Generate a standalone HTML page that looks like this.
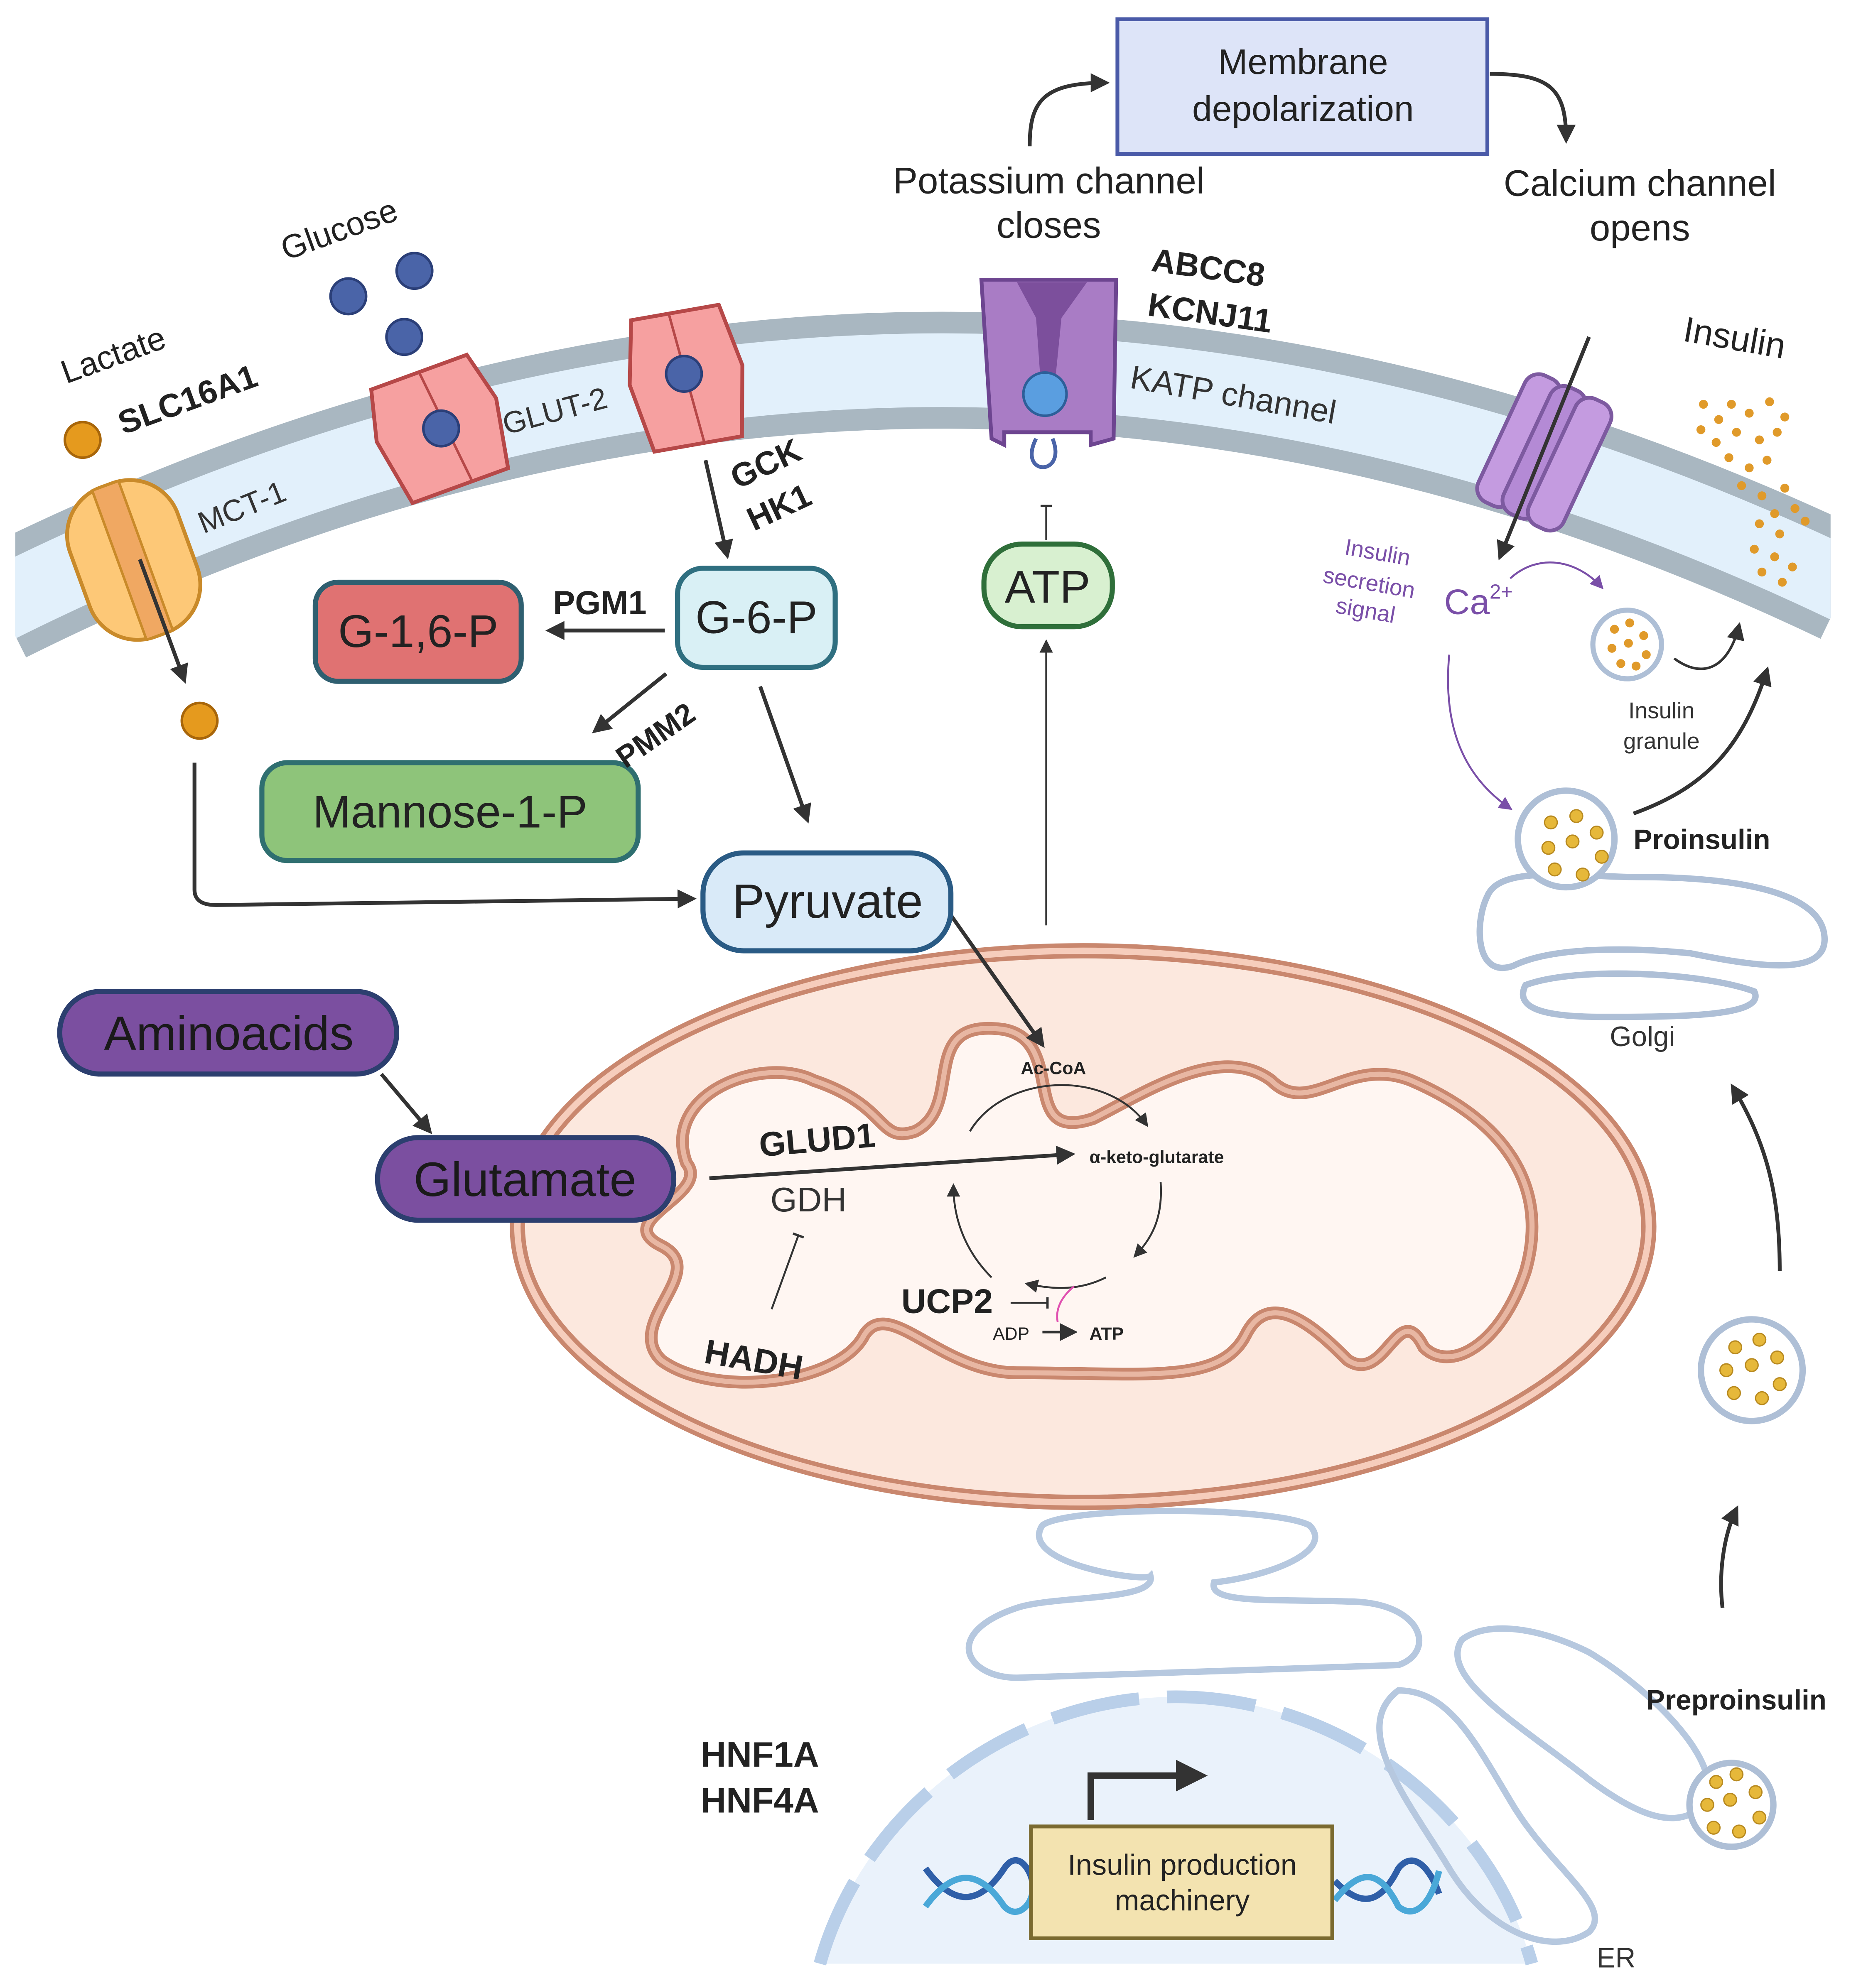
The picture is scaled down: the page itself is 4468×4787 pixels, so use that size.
<!DOCTYPE html>
<html><head><meta charset="utf-8"><style>
html,body{margin:0;padding:0;background:#fff}
svg{display:block}
text{font-family:"Liberation Sans",sans-serif}
</style></head><body>
<svg width="4468" height="4787" viewBox="0 0 1460 1564" xmlns="http://www.w3.org/2000/svg">
<defs>
<marker id="a" viewBox="0 0 10 10" refX="8" refY="5" markerWidth="5" markerHeight="5" orient="auto"><path d="M0,0 L10,5 L0,10 z" fill="#333"/></marker>
<marker id="as" viewBox="0 0 10 10" refX="8" refY="5" markerWidth="7" markerHeight="7" orient="auto"><path d="M0,0 L10,5 L0,10 z" fill="#333"/></marker>
<marker id="ap" viewBox="0 0 10 10" refX="8" refY="5" markerWidth="7" markerHeight="7" orient="auto"><path d="M0,0 L10,5 L0,10 z" fill="#7a4fa8"/></marker>
<marker id="t" viewBox="0 0 10 10" refX="5" refY="5" markerWidth="6" markerHeight="6" orient="auto"><path d="M5,0 L5,10" stroke="#333" stroke-width="2"/></marker>
<clipPath id="mc"><rect x="12" y="0" width="1428" height="700"/></clipPath>
</defs>

<!-- membrane -->
<g clip-path="url(#mc)">
<path d="M0 476 Q 726 114 1452 461" fill="none" stroke="#a9b7c1" stroke-width="92"/>
<path d="M0 476 Q 726 114 1452 461" fill="none" stroke="#e2f0fb" stroke-width="58"/>
</g>

<!-- mitochondrion -->
<ellipse cx="852" cy="965" rx="445" ry="217" fill="#fce8de" stroke="#c9876e" stroke-width="12"/>
<ellipse cx="852" cy="965" rx="445" ry="217" fill="none" stroke="#f6cdbc" stroke-width="5"/>
<path d="M540 915 C 520 860 600 830 640 850 C 700 870 690 900 720 890 C 760 870 720 800 790 810 C 840 820 800 900 860 880 C 900 860 960 820 1000 850 C 1030 880 1060 830 1110 850 C 1180 880 1220 930 1200 1000 C 1180 1060 1140 1080 1120 1060 C 1100 1020 1090 1090 1060 1070 C 1040 1050 1000 1010 980 1050 C 960 1090 900 1080 800 1080 C 740 1080 700 1020 680 1050 C 660 1090 560 1100 520 1070 C 490 1040 560 1000 520 980 C 480 960 560 940 540 915 Z" fill="#fff6f2" stroke="#c9876e" stroke-width="10"/>
<path d="M540 915 C 520 860 600 830 640 850 C 700 870 690 900 720 890 C 760 870 720 800 790 810 C 840 820 800 900 860 880 C 900 860 960 820 1000 850 C 1030 880 1060 830 1110 850 C 1180 880 1220 930 1200 1000 C 1180 1060 1140 1080 1120 1060 C 1100 1020 1090 1090 1060 1070 C 1040 1050 1000 1010 980 1050 C 960 1090 900 1080 800 1080 C 740 1080 700 1020 680 1050 C 660 1090 560 1100 520 1070 C 490 1040 560 1000 520 980 C 480 960 560 940 540 915 Z" fill="none" stroke="#e8b7a3" stroke-width="4"/>

<!-- nucleus -->
<path d="M645 1545 C 680 1420 800 1335 925 1335 C 1050 1335 1170 1420 1205 1545 Z" fill="#eaf2fb"/>
<path d="M645 1545 C 680 1420 800 1335 925 1335 C 1050 1335 1170 1420 1205 1545" fill="none" stroke="#b9cfe9" stroke-width="10" stroke-dasharray="70 22"/>

<!-- ER -->
<g fill="none" stroke="#b6c8df" stroke-width="5">
<path d="M820 1200 C 800 1230 900 1245 905 1240 C 910 1260 830 1255 800 1265 C 740 1285 760 1320 800 1320 L1100 1310 C 1130 1300 1120 1260 1060 1260 C 1000 1258 950 1262 955 1245 C 1000 1240 1050 1220 1030 1200 C 1000 1185 840 1185 820 1200 Z"/>
<path d="M1100 1330 C 1060 1360 1110 1420 1140 1470 C 1170 1520 1220 1540 1250 1520 C 1270 1500 1220 1470 1190 1420 C 1160 1370 1140 1330 1100 1330 Z"/>
<path d="M1150 1290 C 1130 1320 1200 1360 1250 1400 C 1290 1430 1320 1440 1340 1420 C 1360 1390 1300 1330 1250 1300 C 1210 1280 1170 1275 1150 1290 Z"/>
</g>

<!-- Golgi -->
<g fill="none" stroke="#aebfd6" stroke-width="5">
<path d="M1170 705 C 1180 680 1240 690 1290 690 C 1360 690 1430 700 1435 735 C 1440 770 1380 760 1330 750 C 1280 745 1220 745 1190 760 C 1160 770 1160 725 1170 705 Z"/>
<path d="M1200 775 C 1240 760 1340 765 1380 780 C 1390 800 1320 800 1260 800 C 1220 800 1190 795 1200 775 Z"/>
</g>
<circle cx="1232" cy="660" r="38" fill="#fff" stroke="#aebfd6" stroke-width="5"/>
<g fill="#e6b83a" stroke="#b88a20" stroke-width="1">
<circle cx="1220" cy="647" r="5"/><circle cx="1240" cy="642" r="5"/><circle cx="1256" cy="655" r="5"/><circle cx="1218" cy="667" r="5"/><circle cx="1237" cy="662" r="5"/><circle cx="1223" cy="684" r="5"/><circle cx="1245" cy="688" r="5"/><circle cx="1260" cy="674" r="5"/>
</g>
<!-- vesicles -->
<circle cx="1378" cy="1078" r="40" fill="#fff" stroke="#aebfd6" stroke-width="5"/>
<g fill="#e6b83a" stroke="#b88a20" stroke-width="1">
<circle cx="1365" cy="1060" r="5"/><circle cx="1384" cy="1054" r="5"/><circle cx="1398" cy="1068" r="5"/><circle cx="1358" cy="1078" r="5"/><circle cx="1378" cy="1074" r="5"/><circle cx="1400" cy="1089" r="5"/><circle cx="1364" cy="1096" r="5"/><circle cx="1386" cy="1100" r="5"/>
</g>
<circle cx="1362" cy="1420" r="33" fill="#fff" stroke="#aebfd6" stroke-width="5"/>
<g fill="#e6b83a" stroke="#b88a20" stroke-width="1">
<circle cx="1350" cy="1402" r="5"/><circle cx="1366" cy="1396" r="5"/><circle cx="1381" cy="1410" r="5"/><circle cx="1343" cy="1420" r="5"/><circle cx="1361" cy="1416" r="5"/><circle cx="1384" cy="1430" r="5"/><circle cx="1348" cy="1438" r="5"/><circle cx="1368" cy="1441" r="5"/>
</g>
<circle cx="1280" cy="507" r="27" fill="#fff" stroke="#aebfd6" stroke-width="4"/>
<g fill="#e09a2a">
<circle cx="1270" cy="495" r="3.5"/><circle cx="1282" cy="490" r="3.5"/><circle cx="1293" cy="500" r="3.5"/><circle cx="1268" cy="510" r="3.5"/><circle cx="1281" cy="506" r="3.5"/><circle cx="1295" cy="515" r="3.5"/><circle cx="1275" cy="522" r="3.5"/><circle cx="1287" cy="524" r="3.5"/>
</g>
<!-- insulin dots -->
<g fill="#e09a2a">
<circle cx="1340" cy="318" r="3.5"/><circle cx="1352" cy="330" r="3.5"/><circle cx="1362" cy="318" r="3.5"/><circle cx="1376" cy="325" r="3.5"/><circle cx="1392" cy="316" r="3.5"/><circle cx="1404" cy="328" r="3.5"/><circle cx="1338" cy="338" r="3.5"/><circle cx="1350" cy="348" r="3.5"/><circle cx="1366" cy="340" r="3.5"/><circle cx="1384" cy="346" r="3.5"/><circle cx="1398" cy="340" r="3.5"/><circle cx="1360" cy="360" r="3.5"/><circle cx="1376" cy="368" r="3.5"/><circle cx="1390" cy="362" r="3.5"/><circle cx="1370" cy="382" r="3.5"/><circle cx="1386" cy="390" r="3.5"/><circle cx="1404" cy="384" r="3.5"/><circle cx="1396" cy="404" r="3.5"/><circle cx="1412" cy="400" r="3.5"/><circle cx="1384" cy="412" r="3.5"/><circle cx="1400" cy="420" r="3.5"/><circle cx="1380" cy="432" r="3.5"/><circle cx="1396" cy="438" r="3.5"/><circle cx="1410" cy="446" r="3.5"/><circle cx="1386" cy="450" r="3.5"/><circle cx="1402" cy="458" r="3.5"/><circle cx="1420" cy="410" r="3.5"/>
</g>

<!-- MCT-1 transporter -->
<g transform="rotate(-20 105 440)">
<rect x="60" y="378" width="90" height="125" rx="40" fill="#fdc877" stroke="#c98a2a" stroke-width="3"/>
<rect x="93" y="378" width="22" height="125" fill="#f0a862" stroke="#c98a2a" stroke-width="2"/>
</g>
<!-- GLUT-2 transporters -->
<g transform="rotate(-20 345 335)">
<path d="M305 290 L385 290 L395 330 L385 385 L305 385 L295 330 Z" fill="#f6a0a0" stroke="#b64848" stroke-width="3"/>
<path d="M345 290 L355 385" stroke="#b64848" stroke-width="2"/>
</g>
<g transform="rotate(-10 540 297)">
<path d="M505 245 L575 245 L585 295 L575 350 L505 350 L495 295 Z" fill="#f6a0a0" stroke="#b64848" stroke-width="3"/>
<path d="M535 245 L545 350" stroke="#b64848" stroke-width="2"/>
</g>
<circle cx="347" cy="337" r="14" fill="#4a64a8" stroke="#2b3f78" stroke-width="2"/>
<circle cx="538" cy="294" r="14" fill="#4a64a8" stroke="#2b3f78" stroke-width="2"/>
<circle cx="274" cy="233" r="14" fill="#4a64a8" stroke="#2b3f78" stroke-width="2"/>
<circle cx="326" cy="213" r="14" fill="#4a64a8" stroke="#2b3f78" stroke-width="2"/>
<circle cx="318" cy="265" r="14" fill="#4a64a8" stroke="#2b3f78" stroke-width="2"/>
<circle cx="65" cy="346" r="14" fill="#e59a1e" stroke="#a8660a" stroke-width="2"/>
<circle cx="157" cy="567" r="14" fill="#e59a1e" stroke="#a8660a" stroke-width="2"/>

<!-- KATP -->
<path d="M772 220 L878 220 L876 345 L858 350 L858 340 L790 340 L790 350 L780 345 Z" fill="#a97cc5" stroke="#6d4590" stroke-width="3"/>
<path d="M800 222 L855 222 L835 250 L828 320 L820 320 L815 250 Z" fill="#7c4f9c"/>
<circle cx="822" cy="310" r="17" fill="#5a9ee0" stroke="#2d5f99" stroke-width="2"/>
<path d="M815 345 C 800 375 840 375 828 345" fill="none" stroke="#4a64a8" stroke-width="3"/>
<!-- Ca channel -->
<g transform="rotate(25 1213 355)">
<rect x="1178" y="300" width="30" height="110" rx="12" fill="#c49be0" stroke="#7d5aa0" stroke-width="3"/>
<rect x="1200" y="300" width="30" height="110" rx="12" fill="#b48ad5" stroke="#7d5aa0" stroke-width="3"/>
<rect x="1222" y="300" width="30" height="110" rx="12" fill="#c49be0" stroke="#7d5aa0" stroke-width="3"/>
</g>

<!-- arrows -->
<g fill="none" stroke="#333" stroke-width="3">
<path d="M810 115 C 810 80 820 65 870 65" marker-end="url(#a)"/>
<path d="M1172 58 C 1220 58 1232 70 1232 110" marker-end="url(#a)"/>
<path d="M1250 265 L1180 438" marker-end="url(#a)"/>
<path d="M110 440 L145 535" marker-end="url(#a)"/>
<path d="M153 600 L153 700 Q153 712 170 712 L545 707" marker-end="url(#a)"/>
<path d="M555 362 L572 437" marker-end="url(#a)"/>
<path d="M523 496 L432 496" marker-end="url(#a)"/>
<path d="M524 530 L468 575" marker-end="url(#a)"/>
<path d="M598 540 L635 645" marker-end="url(#a)"/>
<path d="M748 720 L820 822" marker-end="url(#a)"/>
<path d="M300 845 L338 890" marker-end="url(#a)"/>
<path d="M558 927 L843 908" marker-end="url(#a)"/>
<path d="M1285 640 C 1340 620 1370 590 1390 527" marker-end="url(#a)"/>
<path d="M1400 1000 C 1400 940 1390 900 1363 855" marker-end="url(#a)"/>
<path d="M1355 1265 C 1352 1240 1355 1210 1366 1187" marker-end="url(#a)"/>
<path d="M1317 518 C 1340 535 1360 525 1368 492" stroke-width="2" marker-end="url(#as)"/>
<path d="M858 1432 L858 1397 L945 1397" stroke-width="5" marker-end="url(#a)"/>
</g>
<g fill="none" stroke="#333" stroke-width="1.5">
<path d="M823 728 L823 505" marker-end="url(#as)"/>
<path d="M823 425 L823 398" marker-end="url(#t)"/>
<path d="M607 1030 L628 972" marker-end="url(#t)"/>
<path d="M795 1025 L824 1025" marker-end="url(#t)"/>
<path d="M763 890 C 790 845 870 840 902 885" marker-end="url(#as)"/>
<path d="M913 930 C 915 960 905 975 893 988"  marker-end="url(#as)"/>
<path d="M870 1005 C 850 1015 830 1015 808 1010" marker-end="url(#as)"/>
<path d="M780 1005 C 760 985 750 960 750 933" marker-end="url(#as)"/>
<path d="M820 1048 L845 1048" stroke-width="2" marker-end="url(#as)"/>
</g>
<path d="M845 1012 C 835 1020 830 1030 832 1040" fill="none" stroke="#e050b0" stroke-width="1.5"/>
<path d="M1188 455 C 1210 435 1240 440 1260 462" fill="none" stroke="#7a4fa8" stroke-width="1.5" marker-end="url(#ap)"/>
<path d="M1140 515 C 1135 570 1150 610 1188 636" fill="none" stroke="#7a4fa8" stroke-width="1.5" marker-end="url(#ap)"/>

<!-- boxes -->
<rect x="879" y="15" width="291" height="106" fill="#dde4f8" stroke="#4a5aa8" stroke-width="3"/>
<text x="1025" y="58" font-size="28" text-anchor="middle" fill="#222">Membrane</text>
<text x="1025" y="95" font-size="28" text-anchor="middle" fill="#222">depolarization</text>

<rect x="248" y="458" width="162" height="78" rx="18" fill="#e07272" stroke="#2f5f70" stroke-width="4"/>
<text x="329" y="509" font-size="36" text-anchor="middle" fill="#222">G-1,6-P</text>
<rect x="533" y="447" width="124" height="78" rx="20" fill="#d9f0f5" stroke="#2f6f80" stroke-width="4"/>
<text x="595" y="498" font-size="36" text-anchor="middle" fill="#222">G-6-P</text>
<rect x="206" y="600" width="296" height="77" rx="20" fill="#8ec47a" stroke="#2f6f70" stroke-width="4"/>
<text x="354" y="651" font-size="36" text-anchor="middle" fill="#222">Mannose-1-P</text>
<rect x="553" y="671" width="195" height="77" rx="32" fill="#d9eaf8" stroke="#2a5b85" stroke-width="4"/>
<text x="651" y="722" font-size="38" text-anchor="middle" fill="#222">Pyruvate</text>
<rect x="774" y="428" width="101" height="65" rx="30" fill="#d8f0d0" stroke="#2f6f3a" stroke-width="4"/>
<text x="824" y="474" font-size="36" text-anchor="middle" fill="#222">ATP</text>
<rect x="47" y="780" width="265" height="65" rx="32" fill="#7b4fa0" stroke="#2c3f6f" stroke-width="4"/>
<text x="180" y="826" font-size="38" text-anchor="middle" fill="#1a1a1a">Aminoacids</text>
<rect x="297" y="895" width="233" height="65" rx="32" fill="#7b4fa0" stroke="#2c3f6f" stroke-width="4"/>
<text x="413" y="941" font-size="38" text-anchor="middle" fill="#1a1a1a">Glutamate</text>

<!-- DNA -->
<g fill="none" stroke-width="5">
<path d="M728 1470 C 750 1500 770 1500 790 1470 C 800 1455 810 1470 812 1480" stroke="#2f5fa8"/>
<path d="M728 1500 C 750 1470 770 1470 790 1500 C 800 1510 810 1500 812 1490" stroke="#4aa8d8"/>
<path d="M1050 1480 C 1070 1500 1085 1500 1100 1470 C 1112 1455 1125 1470 1132 1490" stroke="#2f5fa8"/>
<path d="M1050 1495 C 1070 1470 1085 1470 1100 1500 C 1112 1510 1125 1500 1132 1472" stroke="#4aa8d8"/>
</g>
<rect x="811" y="1437" width="237" height="88" fill="#f3e3b0" stroke="#7a6a30" stroke-width="3"/>
<text x="930" y="1475" font-size="23" text-anchor="middle" fill="#222">Insulin production</text>
<text x="930" y="1503" font-size="23" text-anchor="middle" fill="#222">machinery</text>

<!-- labels -->
<g fill="#222">
<text x="825" y="152" font-size="29" text-anchor="middle">Potassium channel</text>
<text x="825" y="187" font-size="29" text-anchor="middle">closes</text>
<text x="1290" y="154" font-size="29" text-anchor="middle">Calcium channel</text>
<text x="1290" y="189" font-size="29" text-anchor="middle">opens</text>
<text transform="translate(225 205) rotate(-20)" font-size="26">Glucose</text>
<text transform="translate(52 302) rotate(-20)" font-size="26">Lactate</text>
<text transform="translate(97 342) rotate(-20)" font-size="26" font-weight="bold">SLC16A1</text>
<text transform="translate(160 420) rotate(-22)" font-size="24" fill="#333">MCT-1</text>
<text transform="translate(398 342) rotate(-15)" font-size="24" fill="#333">GLUT-2</text>
<text transform="translate(580 385) rotate(-25)" font-size="26" font-weight="bold">GCK</text>
<text transform="translate(593 418) rotate(-25)" font-size="26" font-weight="bold">HK1</text>
<text transform="translate(905 213) rotate(8)" font-size="26" font-weight="bold">ABCC8</text>
<text transform="translate(902 248) rotate(8)" font-size="26" font-weight="bold">KCNJ11</text>
<text transform="translate(888 305) rotate(10)" font-size="26" fill="#333">KATP channel</text>
<text transform="translate(1323 268) rotate(10)" font-size="28">Insulin</text>
<text x="435" y="483" font-size="26" font-weight="bold">PGM1</text>
<text transform="translate(492 605) rotate(-35)" font-size="24" font-weight="bold">PMM2</text>
<text transform="translate(598 910) rotate(-5)" font-size="27" font-weight="bold">GLUD1</text>
<text x="606" y="953" font-size="27" fill="#333">GDH</text>
<text transform="translate(553 1072) rotate(10)" font-size="27" font-weight="bold">HADH</text>
<text x="709" y="1033" font-size="27" font-weight="bold">UCP2</text>
<text x="803" y="845" font-size="14" font-weight="bold">Ac-CoA</text>
<text x="857" y="915" font-size="14" font-weight="bold">α-keto-glutarate</text>
<text x="781" y="1054" font-size="14">ADP</text>
<text x="857" y="1054" font-size="14" font-weight="bold">ATP</text>
<text x="1285" y="668" font-size="22" font-weight="bold">Proinsulin</text>
<text x="1292" y="823" font-size="22" text-anchor="middle" fill="#333">Golgi</text>
<text x="1307" y="565" font-size="18" text-anchor="middle" fill="#333">Insulin</text>
<text x="1307" y="589" font-size="18" text-anchor="middle" fill="#333">granule</text>
<text x="1295" y="1345" font-size="22" font-weight="bold">Preproinsulin</text>
<text x="1256" y="1548" font-size="22" fill="#333">ER</text>
<text x="551" y="1390" font-size="28" font-weight="bold">HNF1A</text>
<text x="551" y="1426" font-size="28" font-weight="bold">HNF4A</text>
</g>
<g fill="#7a4fa8" font-size="18">
<text transform="translate(1057 436) rotate(10)">Insulin</text>
<text transform="translate(1040 458) rotate(10)">secretion</text>
<text transform="translate(1050 482) rotate(10)">signal</text>
</g>
<text x="1136" y="483" font-size="28" fill="#7a4fa8">Ca<tspan font-size="16" dy="-12">2+</tspan></text>
</svg>
</body></html>
